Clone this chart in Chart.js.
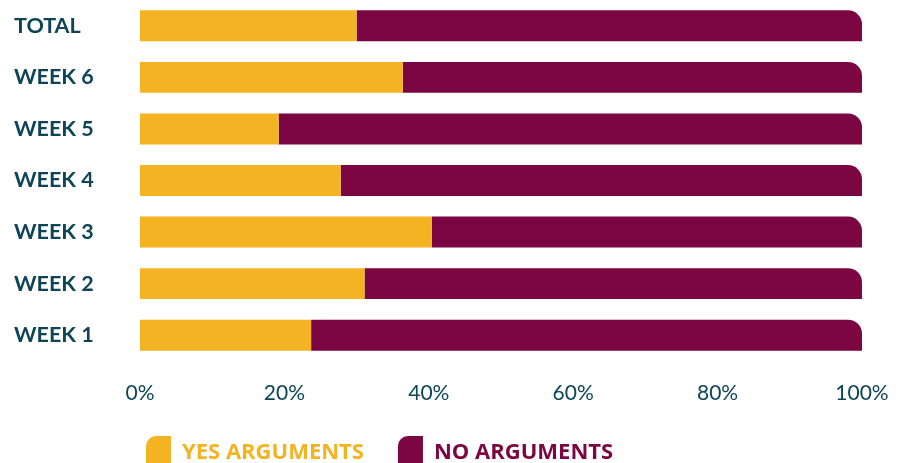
<!DOCTYPE html>
<html>
<head>
<meta charset="utf-8">
<script src="https://cdn.jsdelivr.net/npm/chart.js@4.4.1/dist/chart.umd.min.js"></script>
<style>
  html, body { margin: 0; padding: 0; background: #fff; overflow: hidden; }
  #wrap { width: 904px; height: 480px; position: relative; }
</style>
</head>
<body>
<div id="wrap"><canvas id="chartArgs"></canvas></div>
<script>
// data
const categories = ["TOTAL", "WEEK 6", "WEEK 5", "WEEK 4", "WEEK 3", "WEEK 2", "WEEK 1"];
const yesArguments = [30.0, 36.4, 19.2, 27.8, 40.4, 31.1, 23.7];
const noArguments = [70.0, 63.6, 80.8, 72.2, 59.6, 68.9, 76.3];
const seriesNames = ["YES ARGUMENTS", "NO ARGUMENTS"];
const xTickValues = [0, 20, 40, 60, 80, 100];

const yellow = "#F3B322";
const maroon = "#7B0641";
const teal = "#0D4457";

// nudge the legend so it starts under the bars like the original
const legendShift = {
  id: "legendShift",
  afterLayout(chart) {
    const lg = chart.legend;
    const pad = lg.options.labels.padding;
    const w = lg.right - lg.left;
    lg.left = chart.chartArea.left + 6 - pad;
    lg.right = lg.left + w;
  }
};

const ctx = document.getElementById("chartArgs");
new Chart(ctx, {
  type: "bar",
  data: {
    labels: categories,
    datasets: [
      {
        label: seriesNames[0],
        data: yesArguments,
        backgroundColor: yellow,
        borderWidth: 0,
      },
      {
        label: seriesNames[1],
        data: noArguments,
        backgroundColor: maroon,
        borderWidth: 0,
        borderRadius: { topRight: 14 },
        borderSkipped: "start",
      },
    ],
  },
  options: {
    indexAxis: "y",
    responsive: true,
    maintainAspectRatio: false,
    animation: false,
    layout: { padding: { left: 14, right: 42, top: 0, bottom: 0 } },
    datasets: {
      bar: { categoryPercentage: 1, barPercentage: 0.6 },
    },
    scales: {
      x: {
        stacked: true,
        min: 0,
        max: 100,
        grid: { display: false, drawTicks: false },
        border: { display: false },
        afterBuildTicks: (scale) => {
          scale.ticks = xTickValues.map((v) => ({ value: v }));
        },
        afterFit: (scale) => {
          scale.height = 41;
          scale.paddingLeft = 0;
          scale.paddingRight = 0;
        },
        ticks: {
          padding: 20,
          color: teal,
          font: { family: "Lato", size: 21, weight: "normal" },
          callback: (v) => v + "%",
        },
      },
      y: {
        stacked: true,
        grid: { display: false, drawTicks: false },
        border: { display: false },
        afterFit: (scale) => {
          scale.width = 126;
          scale.paddingTop = 0;
          scale.paddingBottom = 0;
        },
        ticks: {
          crossAlign: "far",
          color: teal,
          font: { family: "Lato", size: 21.5, weight: "bold" },
        },
      },
    },
    plugins: {
      tooltip: { enabled: false },
      legend: {
        position: "bottom",
        align: "start",
        labels: {
          boxWidth: 25,
          boxHeight: 34,
          padding: 34,
          useBorderRadius: true,
          borderRadius: { topLeft: 10, topRight: 0, bottomLeft: 0, bottomRight: 0 },
          font: { family: "Open Sans", size: 22, weight: "bold" },
          generateLabels: (chart) => {
            const items = Chart.defaults.plugins.legend.labels.generateLabels(chart);
            items.forEach((it) => { it.fontColor = it.fillStyle; it.lineWidth = 0; });
            return items;
          },
        },
      },
    },
  },
  plugins: [legendShift],
});
</script>
</body>
</html>
